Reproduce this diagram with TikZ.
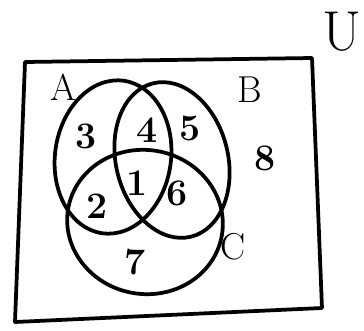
\documentclass[tikz,border=0pt]{standalone}
\usepackage{amsmath}

\tikzset{
  setline/.style={line width=3.2pt, line join=round},
  region/.style={font=\fontsize{32}{32}\selectfont\bfseries},
  setname/.style={font=\fontsize{32}{32}\selectfont}
}

\begin{document}
\begin{tikzpicture}[x=0.03cm, y=-0.03cm]
  \useasboundingbox (0,0) rectangle (364,330);
  % ---- universe ----
  \draw[setline] (25,62) -- (312,58) -- (322,308) -- (15,322) -- cycle;
  \node[font=\fontsize{48}{48}\selectfont, inner sep=0pt, anchor=east] (lU) at (362,32) {U};
  % ---- the three sets ----
  \draw[setline, rotate around={-8:(113,157)}] (113,157) ellipse (58 and 77);
  \draw[setline, rotate around={14:(172,160)}] (172,160) ellipse (56 and 79);
  \draw[setline, rotate around={-10:(145,222)}] (145,222) ellipse (78 and 72);
  \node[setname] (lA) at (63,87) {A};
  \node[setname] (lB) at (250,90) {B};
  \node[setname] (lC) at (233,247) {C};
  % ---- regions ----
  \node[region] (r1) at (137,183) {1};
  \node[region] (r2) at (97,206) {2};
  \node[region] (r3) at (86,136) {3};
  \node[region] (r4) at (147,130) {4};
  \node[region] (r5) at (190,128) {5};
  \node[region] (r6) at (177,193) {6};
  \node[region] (r7) at (135,262) {7};
  \node[region] (r8) at (265,158) {8};
\end{tikzpicture}
\end{document}
